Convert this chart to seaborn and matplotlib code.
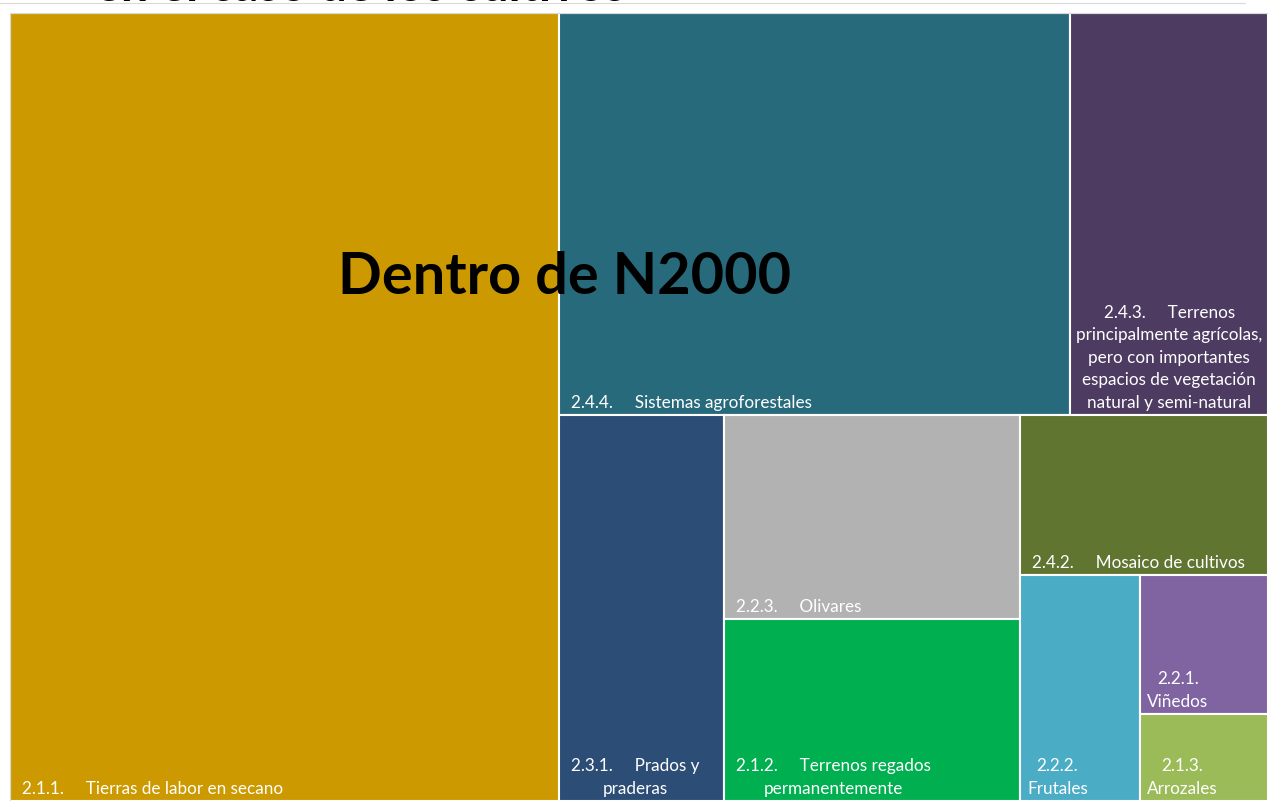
import numpy as np
import pandas as pd
import seaborn as sns
from matplotlib import pyplot as plt

sns.set_style("white")
plt.rcParams['font.family'] = ['Lato', 'DejaVu Sans']

#Data - share of crop area inside N2000 (%)
codes = ["2.1.1.", "2.4.4.", "2.4.3.", "2.3.1.", "2.2.3.", "2.1.2.", "2.4.2.", "2.2.2.", "2.2.1.", "2.1.3."]
labels = ["2.1.1.     Tierras de labor en secano",
          "2.4.4.     Sistemas agroforestales",
          "2.4.3.     Terrenos\nprincipalmente agrícolas,\npero con importantes\nespacios de vegetación\nnatural y semi-natural",
          "2.3.1.     Prados y\npraderas",
          "2.2.3.     Olivares",
          "2.1.2.     Terrenos regados\npermanentemente",
          "2.4.2.     Mosaico de cultivos",
          "2.2.2.\nFrutales",
          "2.2.1.\nViñedos",
          "2.1.3.\nArrozales"]
superficie = [43.64, 20.72, 8.03, 6.42, 6.09, 5.43, 4.00, 2.74, 1.79, 1.12]
colors = ['#CC9900', '#276A7C', '#4D3B61', '#2C4D75', '#B2B2B2',
          '#00B050', '#5F7530', '#4BACC6', '#8064A2', '#9BBB59']
label_pad = [12, 12, 6, 12, 12, 12, 12, 7, 7, 7]  # px from left edge

df = pd.DataFrame({"codigo": codes, "label": labels, "superficie": superficie, "color": colors})

#Treemap split order (h = side by side, v = stacked)
tree = ("h", [0, ("v", [("h", [1, 2]),
                        ("h", [3, ("v", [4, 5]), ("v", [6, ("h", [7, ("v", [8, 9])])])])])])


def node_sum(node):
    if isinstance(node, int):
        return df.loc[node, "superficie"]
    return sum(node_sum(c) for c in node[1])


def layout(node, x, y, w, h, rects):
    if isinstance(node, int):
        rects[node] = (x, y, w, h)
        return rects
    direction, children = node
    total = node_sum(node)
    for child in children:
        frac = node_sum(child) / total
        if direction == "h":
            layout(child, x, y, w * frac, h, rects)
            x += w * frac
        else:
            layout(child, x, y, w, h * frac, rects)
            y += h * frac
    return rects


rects = layout(tree, 0, 0, 1, 1, {})

#Plot
fig = plt.figure(figsize=(12.68, 8.01), dpi=100)
ax = fig.add_axes([10 / 1268, 0, 1258 / 1268, 788 / 801])

for i, row in df.iterrows():
    x, y, w, h = rects[i]
    ax.bar(x, h, width=w, bottom=y, align='edge', color=row["color"], edgecolor='white', linewidth=1.5)
    ax.annotate(row["label"], xy=(x, y + h), xytext=(label_pad[i] * 0.72, 3), textcoords='offset points',
                ha='left', va='bottom', multialignment='center', color='white', fontsize=12.3, linespacing=1.5)

ax.set_xlim(0, 1)
ax.set_ylim(1, 0)
ax.set_xticks([])
ax.set_yticks([])
for spine in ax.spines.values():
    spine.set_color('#d9d9d9')
    spine.set_linewidth(0.8)

fig.text(565 / 1268, 1 - 277 / 801, 'Dentro de N2000', ha='center', va='center', fontsize=41.5, fontweight='bold', color='black')
fig.text(95 / 1268, 1 - 1 / 801, 'en el caso de los cultivos', ha='left', va='baseline', fontsize=35, fontweight='bold', color='black')
fig.add_artist(plt.Line2D([0, 1245 / 1268], [1 - 3 / 801, 1 - 3 / 801], color='#d9d9d9', linewidth=0.8))

plt.savefig('out.png', dpi=100)
